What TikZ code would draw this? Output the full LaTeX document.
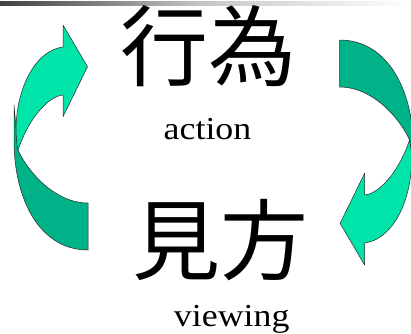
\documentclass[tikz,border=0pt]{standalone}
\usepackage{fontspec}
\setmainfont{Liberation Serif}
\newfontfamily\cjk{Noto Sans CJK JP}
\definecolor{bandlight}{RGB}{0,228,170}
\definecolor{banddark}{RGB}{0,178,136}
\definecolor{edge}{RGB}{40,40,40}
\newcommand\curvedarrowshape{%
  \filldraw[darkband] (14,105) -- (14,140) .. controls (14,200) and (40,250) .. (88,250)
     -- (88,203) .. controls (55,203) and (28,172) .. (18,150) -- cycle;
  \filldraw[lightband] (18,150) .. controls (10,110) and (27,52) .. (63,47)
     -- (63,25) -- (87.5,66.7) -- (63,116.7) -- (63,95)
     .. controls (50,96) and (30,115) .. (18,150) -- cycle;
}
\begin{document}
\begin{tikzpicture}[x=1pt,y=-1pt,
  darkband/.style={fill=banddark,draw=edge,line width=0.5pt,line join=round},
  lightband/.style={fill=bandlight,draw=edge,line width=0.5pt,line join=round},
  bigword/.style={font=\cjk\fontsize{88}{88}\selectfont,inner sep=0pt},
  gloss/.style={font=\fontsize{32}{32}\selectfont,inner sep=0pt,xscale=1.12}]
\useasboundingbox (0,0) rectangle (411,333);
\fill[white] (0,0) rectangle (411,333);
% top gradient bar
\shade[left color=black!75,right color=black!22] (0,1) rectangle (205,5);
\shade[left color=black!22,right color=white] (205,1) rectangle (411,5);
% arrows
\curvedarrowshape
\begin{scope}[rotate around={180:(213.8,145)}]
  \curvedarrowshape
\end{scope}
% texts
\node[bigword] (act) at (208,46.5) {行為};
\node[gloss,anchor=base] (actg) at (207.5,139) {action};
\node[bigword] (view) at (220.5,240) {見方};
\node[gloss,anchor=base] (viewg) at (231.7,326) {viewing};
\end{tikzpicture}
\end{document}
